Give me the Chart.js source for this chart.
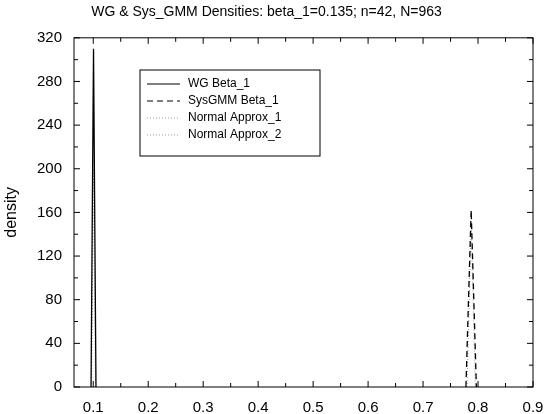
<!DOCTYPE html><html><head><script src="https://cdn.jsdelivr.net/npm/chart.js@4"></script>
<style>body{margin:0;background:#fff}#w{width:550px;height:414px}</style></head><body><div id="w"><canvas id="c"></canvas></div><script>
const titleText="WG & Sys_GMM Densities: beta_1=0.135; n=42, N=963";
const wgX=[0.096,0.1005,0.105], wgY=[0,310,0];
const sysX=[0.778,0.7875,0.797], sysY=[0,162,0];
const n1X=[0.097,0.1005,0.104], n1Y=[0,200,0];
const n2X=[0.780,0.7875,0.795], n2Y=[0,150,0];
const legendLabels=["WG Beta_1","SysGMM Beta_1","Normal Approx_1","Normal Approx_2"];
const xTicks=[0.1,0.2,0.3,0.4,0.5,0.6,0.7,0.8,0.9];
const F='"Liberation Sans", Arial';
const pts=(xs,ys)=>xs.map((x,i)=>({x,y:ys[i]}));
const ds=[
 {label:legendLabels[0],data:pts(wgX,wgY),borderColor:'#000',borderWidth:1.3,borderDash:[]},
 {label:legendLabels[1],data:pts(sysX,sysY),borderColor:'#000',borderWidth:1.3,borderDash:[6,4]},
 {label:legendLabels[2],data:pts(n1X,n1Y),borderColor:'#999',borderWidth:1,borderDash:[1,2]},
 {label:legendLabels[3],data:pts(n2X,n2Y),borderColor:'#999',borderWidth:1,borderDash:[1,2]}
].map(d=>Object.assign(d,{pointRadius:0,fill:false,tension:0}));
const deco={id:'deco',afterDraw(ch){
 const c=ch.ctx,a=ch.chartArea,x=ch.scales.x,y=ch.scales.y;
 c.save();c.strokeStyle='#000';c.lineWidth=1;
 c.strokeRect(a.left,a.top,a.right-a.left,a.bottom-a.top);
 c.beginPath();
 for(let v=0.1;v<=0.901;v+=0.05){const p=x.getPixelForValue(v),L=(Math.round(v*100)%10==0)?6:4;c.moveTo(p,a.bottom);c.lineTo(p,a.bottom-L);c.moveTo(p,a.top);c.lineTo(p,a.top+L);}
 for(let v=0;v<=320;v+=20){const p=y.getPixelForValue(v),L=(v%40==0)?6:4;c.moveTo(a.left,p);c.lineTo(a.left+L,p);c.moveTo(a.right,p);c.lineTo(a.right-L,p);}
 c.stroke();
 const bx=140,by=70,bw=180,bh=86;c.fillStyle='#fff';c.fillRect(bx,by,bw,bh);c.strokeRect(bx,by,bw,bh);
 c.font='12px '+F;c.textBaseline='middle';
 ds.forEach((d,i)=>{const yy=by+14+i*17;c.strokeStyle=d.borderColor;c.setLineDash(d.borderDash);c.beginPath();c.moveTo(bx+7,yy);c.lineTo(bx+40,yy);c.stroke();c.setLineDash([]);c.fillStyle='#000';c.fillText(d.label,bx+48,yy);});
 c.restore();}};
new Chart(document.getElementById('c'),{type:'line',data:{datasets:ds},plugins:[deco],
options:{responsive:true,maintainAspectRatio:false,animation:false,
 layout:{padding:{top:0,right:17,bottom:0,left:0}},
 plugins:{legend:{display:false},tooltip:{enabled:false},
  title:{display:true,text:titleText,color:'#000',font:{family:F,size:14,weight:'normal'},padding:{top:4,bottom:17}}},
 scales:{
  x:{type:'linear',min:0.065,max:0.9,afterBuildTicks:s=>{s.ticks=xTicks.map(v=>({value:v}));},
   afterFit:s=>{s.height=27;},grid:{display:false},border:{display:false},
   ticks:{color:'#000',font:{family:F,size:15},padding:4,maxRotation:0,callback:v=>v.toFixed(1)}},
  y:{min:0,max:320,ticks:{stepSize:40,color:'#000',font:{family:F,size:15},padding:4},
   afterFit:s=>{s.width=74;},grid:{display:false},border:{display:false},
   title:{display:true,text:'density',color:'#000',font:{family:F,size:16},padding:2}}}}});
</script></body></html>
